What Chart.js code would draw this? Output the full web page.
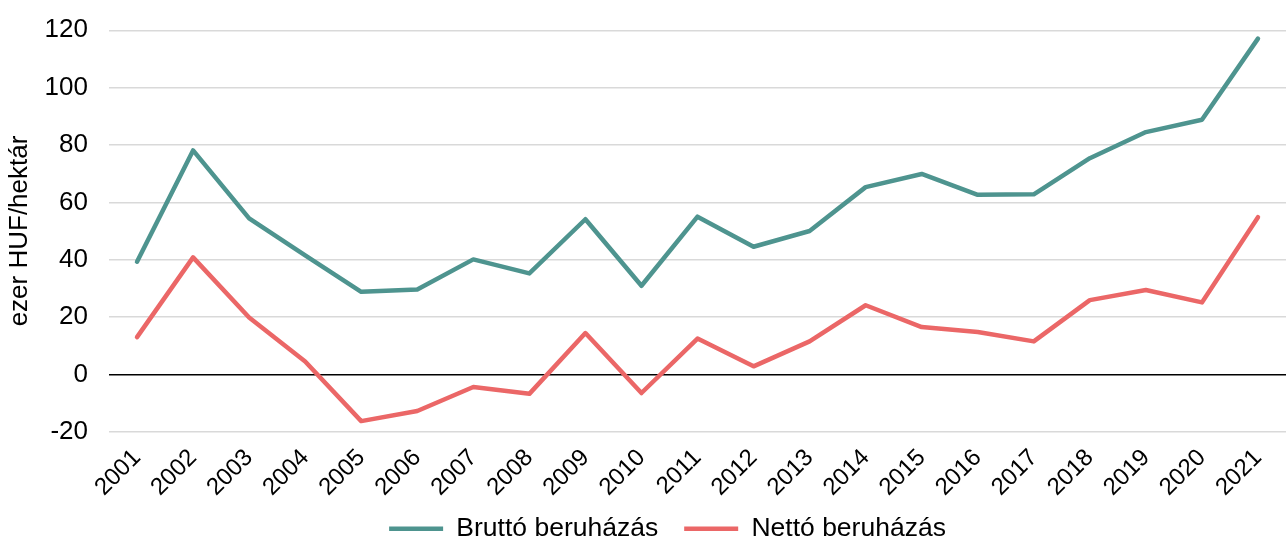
<!DOCTYPE html>
<html>
<head>
<meta charset="utf-8">
<script src="https://cdn.jsdelivr.net/npm/chart.js@4"></script>
<style>
    body { margin: 0; background: #fff; }
    #wrap { width: 1286px; height: 542px; }
</style>
</head>
<body>
<div id="wrap"><canvas id="chart"></canvas></div>
<script>
// adatok (ezer HUF/hektár)
const years = ['2001', '2002', '2003', '2004', '2005', '2006', '2007', '2008', '2009', '2010', '2011',
    '2012', '2013', '2014', '2015', '2016', '2017', '2018', '2019', '2020', '2021'];
const brutto = [39.3, 78.1, 54.4, 41.5, 28.8, 29.6, 40.1, 35.2, 54.1, 30.9, 55.0,
    44.5, 50.0, 65.3, 69.9, 62.6, 62.8, 75.4, 84.5, 88.8, 117.1];
const netto = [13.0, 40.8, 19.8, 4.5, -16.3, -12.8, -4.4, -6.8, 14.4, -6.5, 12.5,
    2.8, 11.5, 24.1, 16.5, 14.8, 11.5, 25.9, 29.4, 25.1, 54.8];
const seriesNames = ['Bruttó beruházás', 'Nettó beruházás'];
const yTitle = 'ezer HUF/hektár';

const FONT = 'Liberation Sans, Arial, sans-serif';
const RIGHT_OVERHANG = -9; // az eredetin a rajzterület kicsit túlnyúlik a jobb szélen

function lineSet(label, data, color) {
    return {
        label: label,
        data: data,
        borderColor: color,
        backgroundColor: color,
        borderWidth: 4.5,
        pointRadius: 0,
        pointHoverRadius: 0,
        tension: 0,
        borderCapStyle: 'round',
        borderJoinStyle: 'round'
    };
}

// apró elrendezési igazítások
const layoutTweaks = {
    id: 'layoutTweaks',
    afterLayout(chart) {
        // az évszámok belelóghatnak a jelmagyarázat sávjába, ne vágja le
        chart.scales.x._computeLabelArea = () => undefined;
        // jelmagyarázat kicsit jobbra, mint az eredetin
        chart.legend.left += 20;
        chart.legend.right += 20;
    }
};

const ctx = document.getElementById('chart').getContext('2d');
new Chart(ctx, {
    type: 'line',
    data: {
        labels: years,
        datasets: [
            lineSet(seriesNames[0], brutto, '#4e948f'),
            lineSet(seriesNames[1], netto, '#eb6767')
        ]
    },
    plugins: [layoutTweaks],
    options: {
        responsive: true,
        maintainAspectRatio: false,
        animation: false,
        layout: { padding: { top: 30.3, right: RIGHT_OVERHANG, bottom: -10, left: 0 } },
        plugins: {
            tooltip: { enabled: false },
            legend: {
                position: 'bottom',
                labels: {
                    usePointStyle: true,
                    pointStyle: 'line',
                    pointStyleWidth: 54,
                    padding: 26,
                    color: '#000',
                    font: { family: FONT, size: 26.5 }
                }
            }
        },
        scales: {
            x: {
                offset: true,
                grid: { display: false },
                border: { display: false },
                ticks: {
                    color: '#000',
                    font: { family: FONT, size: 24 },
                    minRotation: 45,
                    maxRotation: 45,
                    autoSkip: false,
                    padding: 4
                },
                afterFit: scale => {
                    scale.height = 57.8;
                    scale.paddingLeft = 0;
                    scale.paddingRight = RIGHT_OVERHANG;
                }
            },
            y: {
                min: -20,
                max: 120,
                border: { display: false },
                grid: {
                    drawTicks: false,
                    lineWidth: 1.5,
                    color: c => c.tick && c.tick.value === 0 ? '#000' : '#d9d9d9'
                },
                ticks: {
                    stepSize: 20,
                    padding: 21,
                    color: '#000',
                    font: { family: FONT, size: 26 }
                },
                title: {
                    display: true,
                    text: yTitle,
                    color: '#000',
                    font: { family: FONT, size: 26 },
                    padding: { top: 4, bottom: 0 }
                },
                afterFit: scale => {
                    scale.width = 109;
                    scale.paddingTop = 0;
                    scale.paddingBottom = 0;
                    scale.paddingLeft = 0;
                    scale.paddingRight = RIGHT_OVERHANG;
                }
            }
        }
    }
});
</script>
</body>
</html>
